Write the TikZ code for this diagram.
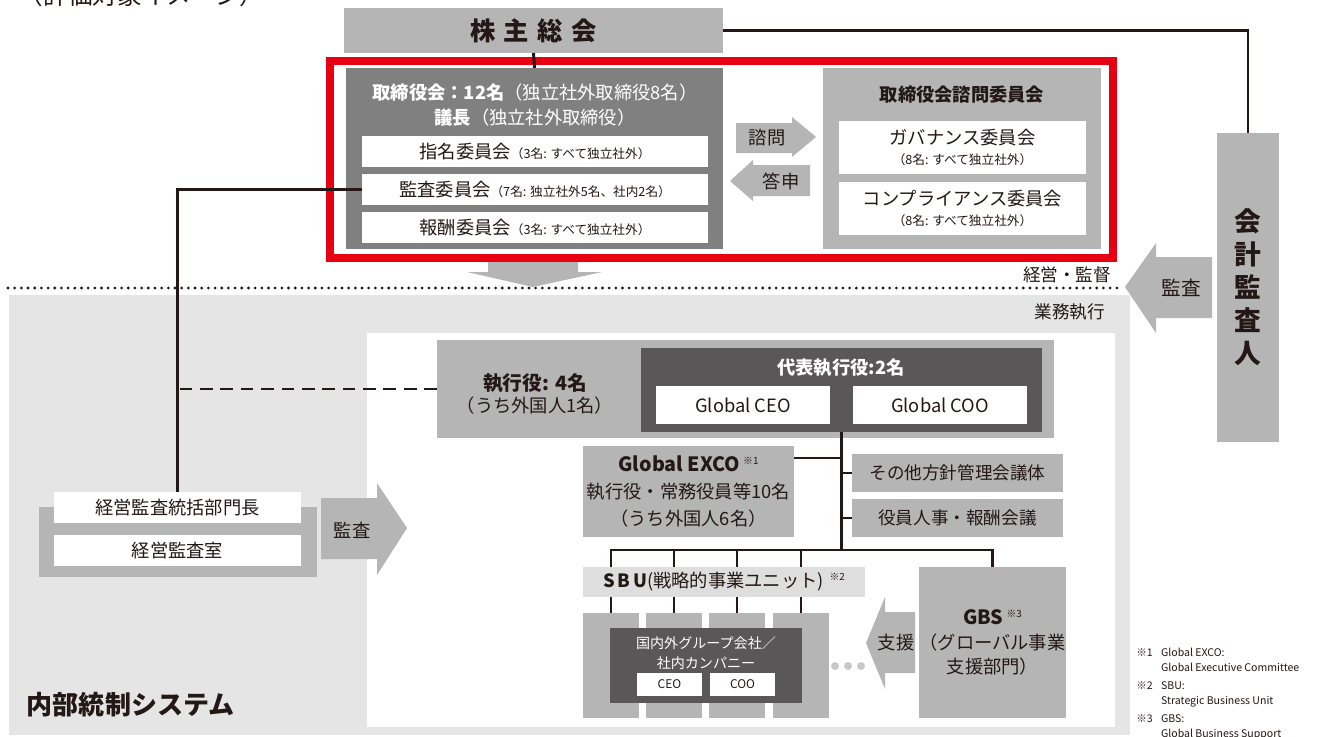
\documentclass[tikz,border=0pt]{standalone}
\usepackage{fontspec}
\setmainfont{Noto Sans CJK JP}
\usepackage{tikz}
\usetikzlibrary{calc}

\definecolor{redframe}{HTML}{E60012}
\definecolor{boardgray}{HTML}{808080}
\definecolor{boxgray}{HTML}{B5B5B5}
\definecolor{darkbox}{HTML}{595757}
\definecolor{areagray}{HTML}{E5E5E5}
\definecolor{bandgray}{HTML}{DEDEDE}
\definecolor{dotgray}{HTML}{C8C8C8}
\definecolor{ink}{HTML}{231815}

\newcommand{\fsz}[2]{\fontsize{#1}{#2}\selectfont}

\tikzset{
  box/.style={inner sep=0pt, outer sep=0pt, align=center},
  graybox/.style={box, fill=boxgray},
  whitebox/.style={box, fill=white},
  darkfill/.style={box, fill=darkbox, text=white},
  conn/.style={draw=ink, line width=2.1pt},
  blockarrow/.style={fill=boxgray},
}

\begin{document}
\begin{tikzpicture}[x=0.025cm, y=-0.025cm, font=\fsz{13}{16}, text=ink]
        \fill[white] (0,0) rectangle (1336,737);
        \useasboundingbox (0,0) rectangle (1336,737);

        \node[anchor=base west, font=\fsz{17.5}{20}] (caption) at (14,4) {（評価対象イメージ）};

        % internal control area
        \fill[areagray] (9,295) rectangle (1130,735);
        \fill[white] (367,333) rectangle (1115,727);
        \draw[ink, line width=2.2pt, line cap=round, dash pattern=on 0pt off 4.75pt] (8,288) -- (1122,288);
        \node[anchor=east, font=\fsz{12.5}{14}] (mgmt) at (1116,275) {経営・監督};
        \node[anchor=east, font=\fsz{12.5}{14}] (exe) at (1110,312) {業務執行};
        \node[anchor=west, font=\fsz{18.5}{20}\bfseries] (ics) at (22,705) {内部統制システム};

        % shareholders and board
        \node[graybox, minimum width=9.475cm, minimum height=1.125cm, font=\fsz{18}{20}\bfseries] (agm) at (533.5,30.5)
            {株\hspace{6pt}主\hspace{6pt}総\hspace{6pt}会};
        \node[box, fill=boardgray, minimum width=9.425cm, minimum height=4.525cm] (board) at (534.5,158.5) {};
        \node[text=white, align=center, font=\fsz{13}{18.4}] (boardtitle) at (535,105)
            {\textbf{取締役会：12名}（独立社外取締役8名）\\\textbf{議長}（独立社外取締役）};
        \node[whitebox, minimum width=8.65cm, minimum height=0.775cm] (nom) at (535,151.5)
            {指名委員会{\fsz{9}{11}（3名: すべて独立社外）}};
        \node[whitebox, minimum width=8.65cm, minimum height=0.775cm] (audit) at (535,189.5)
            {監査委員会{\fsz{9}{11}（7名: 独立社外5名、社内2名）}};
        \node[whitebox, minimum width=8.65cm, minimum height=0.775cm] (comp) at (535,227.5)
            {報酬委員会{\fsz{9}{11}（3名: すべて独立社外）}};

        \node[graybox, minimum width=6.95cm, minimum height=4.525cm] (adv) at (962,158.5) {};
        \node[font=\fsz{13}{16}\bfseries] (advtitle) at (962,95) {取締役会諮問委員会};
        \node[whitebox, minimum width=6.175cm, minimum height=1.325cm, font=\fsz{13}{14.5}] (gov) at (962.5,147.5)
            {ガバナンス委員会\\{\fsz{9}{11}（8名: すべて独立社外）}};
        \node[whitebox, minimum width=6.175cm, minimum height=1.325cm, font=\fsz{13}{14.5}] (compl) at (962.5,208.5)
            {コンプライアンス委員会\\{\fsz{9}{11}（8名: すべて独立社外）}};

        \draw[redframe, line width=5pt] (330,61) rectangle (1113,258);

        % block arrows
        \fill[blockarrow] (736,123) -- (792,123) -- (792,117) -- (816,137) -- (792,157) -- (792,153) -- (736,153) -- cycle;
        \node (consult) at (767,138) {諮問};
        \fill[blockarrow] (810,165) -- (753,165) -- (753,160) -- (730,181) -- (753,201) -- (753,196) -- (810,196) -- cycle;
        \node (report) at (781,181) {答申};
        \fill[blockarrow] (488,262) -- (578,262) -- (578,272) -- (602,272) -- (533,287) -- (467,272) -- (488,272) -- cycle;

        % accounting auditor
        \node[graybox, minimum width=1.55cm, minimum height=7.725cm, font=\fsz{19}{23.4}\bfseries] (auditor) at (1248,287.5)
            {会\\計\\監\\査\\人};
        \fill[blockarrow] (1212,257) -- (1156,257) -- (1156,243) -- (1125,287) -- (1156,333) -- (1156,318) -- (1212,318) -- cycle;
        \node[font=\fsz{14}{16}] (extaudit) at (1181,288) {監査};

        % executive side
        \node[graybox, minimum width=15.425cm, minimum height=2.45cm] (exec) at (745.5,389) {};
        \node[align=center, font=\fsz{13}{15.6}] (exectext) at (535,394) {\textbf{\fsz{14}{15.6}執行役: 4名}\\（うち外国人1名）};
        \node[darkfill, minimum width=10.025cm, minimum height=2.1cm] (rep) at (841.5,390) {};
        \node[text=white, font=\fsz{13}{16}\bfseries] (reptitle) at (841,368) {代表執行役:2名};
        \node[whitebox, minimum width=4.35cm, minimum height=0.95cm] (gceo) at (743,405) {Global CEO};
        \node[whitebox, minimum width=4.35cm, minimum height=0.95cm] (gcoo) at (940,405) {Global COO};

        \node[graybox, minimum width=5.275cm, minimum height=2.275cm, font=\fsz{13}{19}] (exco) at (688.5,491.5)
            {{\fsz{14}{19}\bfseries Global EXCO}\,\raisebox{5pt}{\fsz{7}{8}※1}\\執行役・常務役員等10名\\（うち外国人6名）};
        \node[graybox, minimum width=5.275cm, minimum height=0.95cm, font=\fsz{12.5}{14}] (other) at (957.5,473) {その他方針管理会議体};
        \node[graybox, minimum width=5.275cm, minimum height=0.95cm, font=\fsz{12.5}{14}] (hr) at (957.5,518) {役員人事・報酬会議};

        \foreach \i/\x in {1/611, 2/674, 3/737, 4/801}
            \node[graybox, minimum width=1.4cm, minimum height=2.625cm] (col\i) at (\x,665.5) {};
        \node[darkfill, minimum width=4.8cm, minimum height=1.875cm] (group) at (706,665.5) {};
        \node[text=white, align=center, font=\fsz{10}{14}] (grouptext) at (706,653) {国内外グループ会社／\\社内カンパニー};
        \node[whitebox, minimum width=1.625cm, minimum height=0.575cm, font=\fsz{8.5}{10}] (ceo) at (669.5,684.5) {CEO};
        \node[whitebox, minimum width=1.625cm, minimum height=0.575cm, font=\fsz{8.5}{10}] (coo) at (742.5,684.5) {COO};
        \foreach \x in {835, 848, 861}
            \fill[dotgray] (\x,666) circle (2.8pt);

        \node[graybox, minimum width=3.525cm, minimum height=3.775cm, font=\fsz{13}{17.5}] (gbs) at (992.5,642.5)
            {{\fsz{14}{17.5}\bfseries GBS}\,\raisebox{5pt}{\fsz{7}{8}※3}\\（グローバル事業\\支援部門）};
        \fill[blockarrow] (915,612) -- (885,612) -- (885,597) -- (866,643) -- (885,689) -- (885,673) -- (915,673) -- cycle;
        \node (support) at (896,643) {支援};

        % internal audit
        \node[graybox, minimum width=6.95cm, minimum height=1.75cm] (iad) at (178,542) {};
        \node[whitebox, minimum width=6.175cm, minimum height=0.775cm] (iadhead) at (177.5,507.5) {経営監査統括部門長};
        \node[whitebox, minimum width=6.175cm, minimum height=0.775cm] (iadroom) at (177.5,550.5) {経営監査室};
        \fill[blockarrow] (321,498) -- (377,498) -- (377,483) -- (407,528) -- (377,575) -- (377,559) -- (321,559) -- cycle;
        \node (intaudit) at (352,530) {監査};

        % connectors
        \coordinate (hub) at (rep.south |- 0,550);
        \draw[conn] (agm.east) -| (auditor.north);
        \draw[conn] (agm.south) -- (board.north);
        \draw[conn] (audit.west) -| (iadhead.north);
        \draw[conn, dash pattern=on 9pt off 5.5pt] (exec.west) -- (exec.west -| iadhead.north);
        \draw[conn] (rep.south) -- (hub);
        \draw[conn] ([yshift=-0.3cm]exco.north east) -- ([yshift=-0.3cm]exco.north east -| hub);
        \draw[conn] (other.west) -- (other.west -| hub);
        \draw[conn] (hr.west) -- (hr.west -| hub);
        \foreach \i in {1,...,4}
            \draw[conn] (hub) -| (col\i.north);
        \draw[conn] (hub) -| (gbs.north);

        \node[box, fill=bandgray, minimum width=7.05cm, minimum height=0.75cm] (sbu) at (724,582)
            {{\bfseries S\hspace{2pt}B\hspace{2pt}U}(戦略的事業ユニット)\hspace{4pt}\raisebox{5pt}{\fsz{7}{8}※2}};

        % notes
        \node[anchor=north west, inner sep=0pt, font=\fsz{7.5}{11}] (notes) at (1136,645)
            {\begin{tabular}{@{}l@{\hspace{6pt}}l@{}}
              ※1 & Global EXCO:\\
                 & Global Executive Committee\\[1.5pt]
              ※2 & SBU:\\
                 & Strategic Business Unit\\[1.5pt]
              ※3 & GBS:\\
                 & Global Business Support
             \end{tabular}};
\end{tikzpicture}
\end{document}
